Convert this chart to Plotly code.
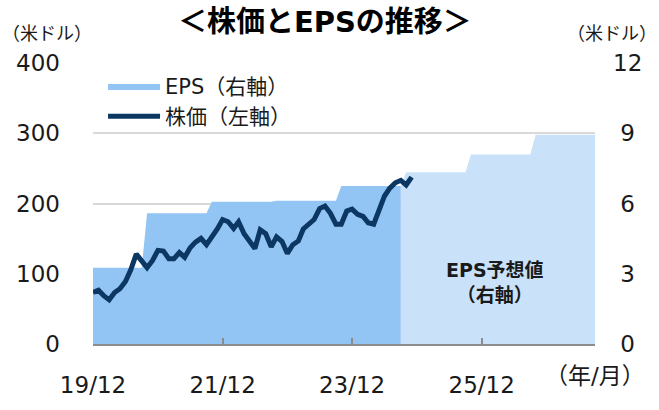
import plotly.graph_objects as go
import pandas as pd

# Stock price (left axis, USD), monthly from 2019/12 to 2024/11
price = [73.3, 76.5, 68.4, 63, 73.3, 78.7, 89, 105.5, 128, 116.8,
         108.7, 119, 133.3, 132.4, 121.2, 121.2, 130.2, 123.5, 137, 145,
         150.3, 141.3, 151.7, 163.8, 177.2, 174, 164.6, 174, 157, 148,
         136, 162.4, 157, 138.3, 152.5, 145.8, 128.9, 141.3, 146.7, 163.8,
         169.5, 177.2, 192.8, 196.4, 186, 170.5, 170.5, 189.3, 192, 184.7,
         181.6, 172.6, 170.5, 190.6, 210.7, 221.9, 229.5, 233, 226.3, 237.6]
price_dates = pd.date_range("2019-12-01", periods=len(price), freq="MS")

# EPS actual (right axis, USD) - corner points of the step area
eps_dates = ["2019-12-01", "2020-09-01", "2020-10-01", "2021-09-01", "2021-10-01",
             "2022-09-01", "2022-10-01", "2023-09-01", "2023-10-01", "2024-09-01"]
eps_vals = [3.26, 3.26, 5.58, 5.58, 6.08, 6.08, 6.12, 6.12, 6.75, 6.75]

# EPS forecast (right axis, USD)
fc_dates = ["2024-09-01", "2024-10-01", "2025-09-01", "2025-10-01",
            "2026-09-01", "2026-10-01", "2027-09-01"]
fc_vals = [6.75, 7.33, 7.33, 8.09, 8.09, 8.94, 8.94]

tick_dates = ["2019-12-01", "2021-12-01", "2023-12-01", "2025-12-01"]
tick_text = ["19/12", "21/12", "23/12", "25/12"]
left_ticks = [0, 100, 200, 300, 400]
right_ticks = [0, 3, 6, 9, 12]
right_text = ["\u00a00", "\u00a03", "\u00a06", "\u00a09", "12"]

FONT = "DejaVu Sans, Noto Sans CJK JP, sans-serif"
C_EPS = "#92C5F3"
C_FC = "#C9E2FA"
C_LINE = "#0B3762"
C_TXT = "#1a1a1a"

fig = go.Figure()
fig.add_trace(go.Scatter(x=eps_dates, y=eps_vals, name="EPS（右軸）", mode="lines",
                         fill="tozeroy", fillcolor=C_EPS, line=dict(width=0, color=C_EPS),
                         yaxis="y"))
fig.add_trace(go.Scatter(x=fc_dates, y=fc_vals, name="EPS予想値", mode="lines",
                         fill="tozeroy", fillcolor=C_FC, line=dict(width=0, color=C_FC),
                         yaxis="y", showlegend=False))
fig.add_trace(go.Scatter(x=price_dates, y=price, name="株価（左軸）", mode="lines",
                         line=dict(width=5, color=C_LINE), yaxis="y2"))

fig.update_layout(
    width=659, height=410,
    margin=dict(l=93, r=64, t=63, b=49),
    paper_bgcolor="white", plot_bgcolor="white",
    font=dict(family=FONT, size=23, color=C_TXT),
    title=dict(text="<b>＜株価とEPSの推移＞</b>", x=0.493, xref="container", xanchor="center",
               y=0.946, yref="container", yanchor="middle",
               font=dict(size=29, color="#000000", family=FONT)),
    xaxis=dict(type="date", range=["2019-12-01", "2027-09-01"],
               tickvals=tick_dates, ticktext=tick_text,
               ticks="inside", ticklen=6, tickcolor="#8c8c8c", tickwidth=1.5,
               showline=True, linecolor="#8c8c8c", linewidth=1.5,
               showgrid=False, zeroline=False, ticklabelstandoff=20,
               tickfont=dict(size=23)),
    yaxis=dict(side="right", range=[0, 12], tickvals=right_ticks, ticktext=right_text,
               showgrid=True, gridcolor="#d9d9d9", gridwidth=1.5, zeroline=False,
               showline=False, ticks="", ticklabelstandoff=17, tickfont=dict(size=23)),
    yaxis2=dict(side="left", overlaying="y", range=[0, 400], tickvals=left_ticks,
                showgrid=False, zeroline=False, showline=False, ticks="",
                ticklabelstandoff=32, tickfont=dict(size=23)),
    legend=dict(x=0.02, y=0.99, xanchor="left", yanchor="top", bgcolor="rgba(0,0,0,0)",
                font=dict(size=21), tracegroupgap=0, itemwidth=52),
    annotations=[
        dict(text="（米ドル）", xref="paper", yref="paper", x=-0.1853, y=1.104,
             xanchor="left", yanchor="middle", showarrow=False, font=dict(size=18)),
        dict(text="（米ドル）", xref="paper", yref="paper", x=1.1275, y=1.104,
             xanchor="right", yanchor="middle", showarrow=False, font=dict(size=18)),
        dict(text="（年/月）", xref="paper", yref="paper", x=1.0, y=-0.114,
             xanchor="center", yanchor="middle", showarrow=False, font=dict(size=23)),
        dict(text="<b>EPS予想値<br>（右軸）</b>", xref="paper", yref="paper", x=0.80, y=0.218,
             xanchor="center", yanchor="middle", showarrow=False,
             font=dict(size=19, color=C_TXT)),
    ],
)

fig.write_html("out.html", config={"displayModeBar": False},
               post_script="document.body.style.margin='0';")
